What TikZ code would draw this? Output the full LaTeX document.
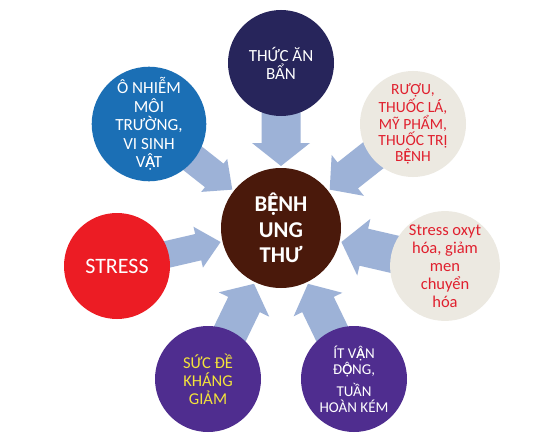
\documentclass[tikz,border=0pt]{standalone}
\usepackage{fontspec}
\setmainfont{Carlito}
\usetikzlibrary{calc}
\pgfdeclarelayer{bg}
\pgfdeclarelayer{arrows}
\pgfsetlayers{bg,arrows,main}
\definecolor{navyc}{HTML}{27255B}
\definecolor{bluec}{HTML}{1B6FB5}
\definecolor{beigec}{HTML}{ECE9E1}
\definecolor{redc}{HTML}{EC1C24}
\definecolor{purplec}{HTML}{4F2D8F}
\definecolor{brownc}{HTML}{4A190B}
\definecolor{redtext}{HTML}{E0202E}
\definecolor{yellowtext}{HTML}{F3E33B}
\definecolor{arrowc}{HTML}{9DB2D7}
% Carlito draws these stacked letters without the circumflex: overlay them
\newcommand\vnEcd{\rlap{Ê}Ẹ}
\newcommand\vnAcd{\rlap{Â}Ạ}
\newcommand\vnOcd{\rlap{Ô}Ọ}
\tikzset{
  circ/.style={circle, minimum size=106pt, inner sep=0pt, align=center},
  arrowfill/.style={fill=arrowc},
}
% #1 outer node, #2 shaft half width, #3 head half width
\newcommand\blockarr[3]{%
  \fill[arrowfill] let \p1=($(#1.center)-(C.center)$), \n1={atan2(\y1,\x1)} in
    ($(C.center)+(\n1:62pt)$)
    -- ($(C.center)+(\n1:85pt)+(\n1+90:#3pt)$)
    -- ($(C.center)+(\n1:85pt)+(\n1+90:#2pt)$)
    -- ($(C.center)+(\n1:120pt)+(\n1+90:#2pt)$)
    -- ($(C.center)+(\n1:120pt)+(\n1-90:#2pt)$)
    -- ($(C.center)+(\n1:85pt)+(\n1-90:#2pt)$)
    -- ($(C.center)+(\n1:85pt)+(\n1-90:#3pt)$)
    -- cycle;}
\begin{document}
\begin{tikzpicture}[x=1pt,y=-1pt]
\begin{pgfonlayer}{bg}
\fill[white] (0,0) rectangle (560,436);
\end{pgfonlayer}
\useasboundingbox (0,0) rectangle (560,436);
\node[circ, minimum size=120pt, fill=brownc, text=white,
      font=\bfseries\fontsize{22.6}{25.5}\selectfont] (C) at (281,228) {B\vnEcd NH\\UNG\\THƯ};
\node[circ, fill=navyc, text=white, font=\fontsize{17}{18}\selectfont] (T) at (281,63) {THỨC ĂN\\BẨN};
\node[circ, fill=beigec, text=redtext, font=\fontsize{15.5}{16}\selectfont] (TR) at (413,124) {RƯỢU,\\THUỐC LÁ,\\MỸ PHẨM,\\THUỐC TRỊ\\B\vnEcd NH};
\node[circ, fill=beigec, text=redtext, font=\fontsize{16.5}{18}\selectfont] (R) at (445,266) {Stress oxyt\\hóa, giảm\\men\\chuyển\\hóa};
\node[circ, fill=purplec, text=white, font=\fontsize{15}{16}\selectfont] (BR) at (354,379) {ÍT V\vnAcd N\\Đ\vnOcd NG,\\[6pt]TUẦN\\HOÀN KÉM};
\node[circ, fill=purplec, text=yellowtext, font=\fontsize{16.5}{18}\selectfont] (BL) at (208,379) {SỨC ĐỀ\\KHÁNG\\GIẢM};
\node[circ, fill=redc, text=white, font=\fontsize{22}{24}\selectfont] (L) at (117,266) {STRESS};
\node[circ, fill=bluec, text=white, font=\fontsize{17}{18.5}\selectfont] (TL) at (149,124) {Ô NHIỄM\\MÔI\\TRƯỜNG,\\VI SINH\\V\vnAcd T};
\begin{pgfonlayer}{arrows}
\blockarr{T}{19.5}{29}
\blockarr{TR}{16.5}{26}
\blockarr{R}{19}{29}
\blockarr{BR}{17.5}{27}
\blockarr{BL}{17.5}{28}
\blockarr{L}{13.5}{21}
\blockarr{TL}{15}{21}
\end{pgfonlayer}
\end{tikzpicture}
\end{document}
